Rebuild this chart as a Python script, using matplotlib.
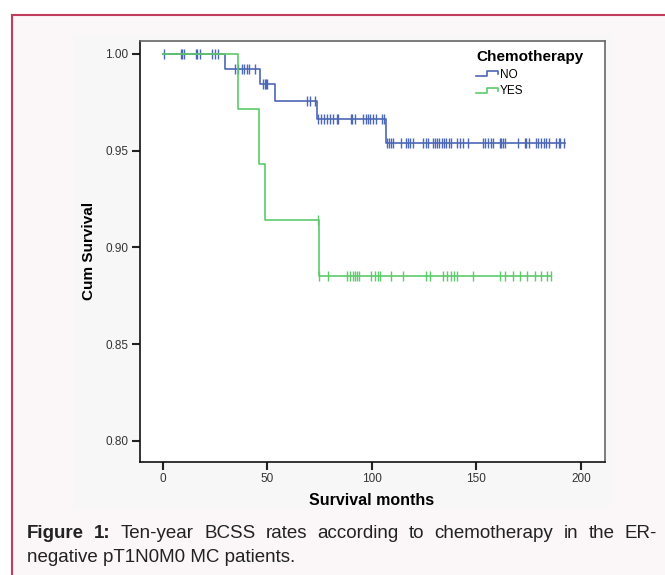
import numpy as np
import matplotlib
matplotlib.use("Agg")
import matplotlib.pyplot as plt
from matplotlib.patches import Rectangle
from matplotlib.lines import Line2D
from matplotlib.legend_handler import HandlerBase

plt.rcParams['font.family'] = ['Liberation Sans', 'DejaVu Sans']

# Kaplan-Meier data (months, cumulative survival)
no_times = [0, 29.7, 46.4, 53.6, 73.8, 106.6]
no_surv = [1.0, 0.9922, 0.9843, 0.9757, 0.9666, 0.9538]
no_end = 192.2
no_censor = [0.6, 8.7, 9.3, 10.1, 15.7, 16.5, 17.8, 23.4, 24.9, 26.5,
             34.5, 36.1, 37.7, 38.9, 40.1, 41.2, 44.1,
             48.0, 48.7, 49.3, 50.0,
             69.0, 70.3, 72.7,
             74.3, 75.9, 77.0, 78.3, 79.9, 81.5, 83.1, 83.9, 89.8, 90.7, 91.8,
             95.8, 97.1, 98.2, 99.3, 100.6, 102.2, 104.6, 105.7,
             107.0, 108.1, 109.0, 110.1, 114.1, 116.2, 117.3, 118.4, 119.7,
             124.2, 125.8, 126.9, 129.0, 130.0, 131.2, 132.1, 133.3, 134.4,
             135.6, 136.9, 137.7, 140.7, 142.0, 143.6, 146.0, 153.0, 154.0,
             155.5, 157.0, 158.0, 161.1, 161.9, 162.7, 163.5, 169.9, 173.0,
             173.9, 175.0, 178.3, 179.4, 181.0, 182.1, 183.4, 184.5, 188.2,
             189.3, 190.1, 192.0]

yes_times = [0, 35.8, 46.0, 48.8, 74.8]
yes_surv = [1.0, 0.9714, 0.9429, 0.9143, 0.8850]
yes_end = 185.5
yes_censor = [74.0, 74.9, 79.0, 87.9, 89.4, 91.0, 92.0, 92.9, 93.9,
              99.8, 101.4, 103.0, 103.9, 108.9, 114.9, 126.1, 128.0,
              134.0, 135.8, 137.7, 139.1, 140.6, 148.1, 161.1, 163.5,
              167.3, 170.7, 174.0, 177.9, 180.7, 183.6, 185.5]

groups = ["NO", "YES"]
colors = ["#4d67b8", "#5ccb6a"]

W, H = 665, 575
fig = plt.figure(figsize=(W / 100, H / 100), dpi=100, facecolor='white')

# page background with red border, grey chart panel
fig.patches.append(Rectangle((12 / W, -0.1), 1.2, 1 - 15 / H + 0.1,
                             transform=fig.transFigure, facecolor='#fbf7f8',
                             edgecolor='#c23c5e', lw=1.5, zorder=-10))
fig.patches.append(Rectangle((74 / W, 1 - 508 / H), (611 - 74) / W, (508 - 35) / H,
                             transform=fig.transFigure, facecolor='#f7f7f7',
                             edgecolor='none', zorder=-9))

ax = fig.add_axes([139.5 / W, 1 - 461.5 / H, (604.5 - 139.5) / W, (461.5 - 41) / H])
ax.set_facecolor('white')


def km_step(times, surv, end):
    xs = list(times) + [end]
    ys = list(surv) + [surv[-1]]
    return xs, ys


def level_at(times, surv, t):
    idx = np.searchsorted(times, t, side='right') - 1
    return np.array(surv)[idx]


data = [(no_times, no_surv, no_end, no_censor),
        (yes_times, yes_surv, yes_end, yes_censor)]

for (times, surv, end, cens), col, z in zip(data, colors, [2, 3]):
    xs, ys = km_step(times, surv, end)
    ax.step(xs, ys, where='post', color=col, lw=1.2, zorder=z)
    ax.plot(cens, level_at(times, surv, cens), ls='none', marker='|',
            ms=7, mew=1.0, color=col, zorder=z)

ax.set_xlim(-11.1, 211.2)
ax.set_ylim(0.7893, 1.0067)
ax.set_xticks([0, 50, 100, 150, 200])
ax.set_yticks([0.80, 0.85, 0.90, 0.95, 1.00])
ax.set_yticklabels(['0.80', '0.85', '0.90', '0.95', '1.00'])
ax.tick_params(axis='both', direction='out', length=6, width=1.5,
               labelsize=8.5, labelcolor='#333333', color='#222222', pad=2)

for s in ['left', 'bottom']:
    ax.spines[s].set_color('#111111')
    ax.spines[s].set_linewidth(1.2)
for s in ['top', 'right']:
    ax.spines[s].set_color('#666666')
    ax.spines[s].set_linewidth(1.2)

ax.set_xlabel('Survival months', fontsize=11.5, fontweight='bold', labelpad=6)
ax.set_ylabel('Cum Survival', fontsize=11, fontweight='bold', labelpad=7)


class StepHandler(HandlerBase):
    def create_artists(self, legend, orig_handle, xdescent, ydescent,
                       width, height, fontsize, trans):
        x0 = -xdescent
        y0 = -ydescent
        xs = np.array([0, 0.5, 0.5, 1.0, 1.0]) * width + x0
        ys = np.array([0.15, 0.15, 0.85, 0.85, 0.4]) * height + y0
        ln = Line2D(xs, ys, color=orig_handle.get_color(), lw=1.2, transform=trans)
        return [ln]


handles = [Line2D([], [], color=c) for c in colors]
leg = ax.legend(handles, groups, title='Chemotherapy', loc='upper left',
                bbox_to_anchor=(0.7135, 0.99), frameon=False, fontsize=8.5,
                handler_map={Line2D: StepHandler()}, handlelength=1.9,
                handleheight=0.6, handletextpad=0.1, labelspacing=0.4,
                alignment='left', borderaxespad=0)
leg.get_title().set_fontweight('bold')
leg.get_title().set_fontsize(11)

# caption, first line justified
line1 = ['Figure', '1:', 'Ten-year', 'BCSS', 'rates', 'according', 'to',
         'chemotherapy', 'in', 'the', 'ER-']
bold_words = 2
line2 = 'negative pT1N0M0 MC patients.'
cap_size = 13.5
x_left, x_right = 27, 657
y1, y2 = 1 - 533 / H, 1 - 557 / H

fig.canvas.draw()
renderer = fig.canvas.get_renderer()
txts = []
for i, w in enumerate(line1):
    t = fig.text(0, y1, w, fontsize=cap_size, va='center', color='#222222',
                 fontweight='bold' if i < bold_words else 'normal')
    txts.append(t)
widths = [t.get_window_extent(renderer).width for t in txts]
gap = (x_right - x_left - sum(widths)) / (len(line1) - 1)
x = x_left
for t, wd in zip(txts, widths):
    t.set_x(x / W)
    x += wd + gap
fig.text(x_left / W, y2, line2, fontsize=cap_size, va='center', color='#222222')

fig.savefig('out.png', dpi=100, facecolor=fig.get_facecolor())
